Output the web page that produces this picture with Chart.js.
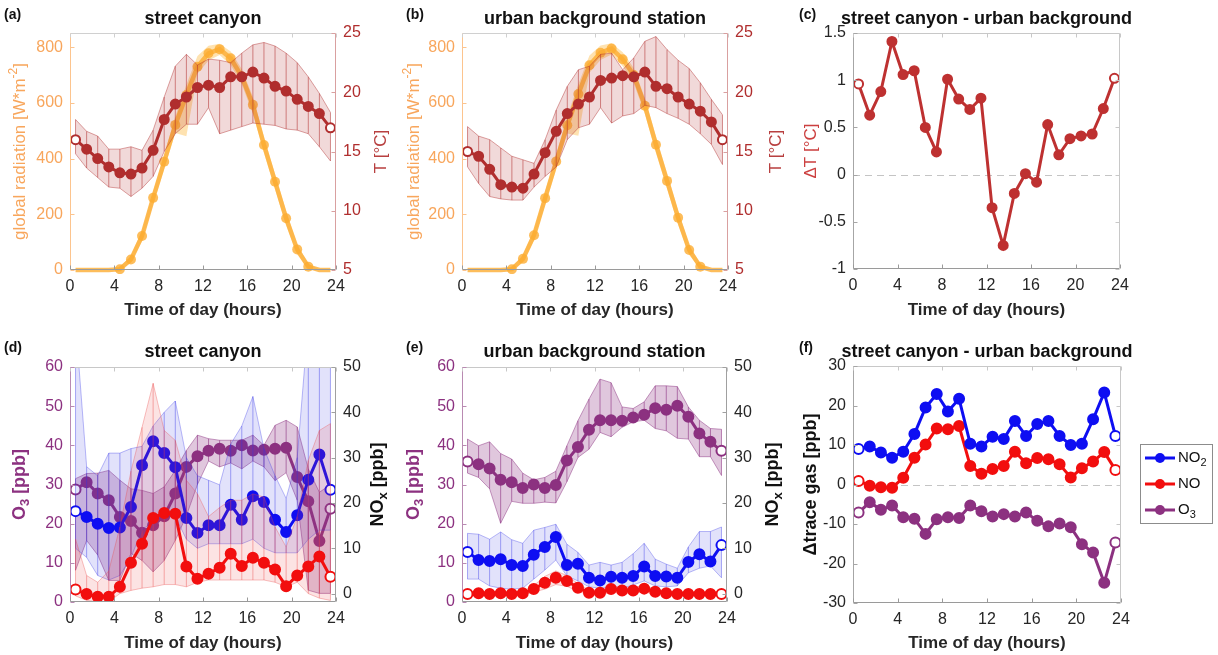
<!DOCTYPE html>
<html lang="en">
<head>
<meta charset="UTF-8">
<title>Diurnal cycles: street canyon vs urban background</title>
<style>
  body { margin: 0; background: #fff; }
  #wrap { position: relative; width: 1218px; height: 655px; }
  #wrap canvas { position: absolute; left: 0; top: 0; }
</style>
</head>
<body>
<div id="wrap">
  <canvas id="cA" width="1218" height="655"></canvas>
  <canvas id="cB" width="1218" height="655"></canvas>
  <canvas id="cC" width="1218" height="655"></canvas>
  <canvas id="cD" width="1218" height="655"></canvas>
  <canvas id="cE" width="1218" height="655"></canvas>
  <canvas id="cF" width="1218" height="655"></canvas>
</div>

<script src="https://cdn.jsdelivr.net/npm/chart.js"></script>
<script>
const hours = [0.5, 1.5, 2.5, 3.5, 4.5, 5.5, 6.5, 7.5, 8.5, 9.5, 10.5, 11.5,
               12.5, 13.5, 14.5, 15.5, 16.5, 17.5, 18.5, 19.5, 20.5, 21.5, 22.5, 23.5];

// (a) street canyon: global radiation [W m-2] and temperature [degC]
const radStreet   = [0, 0, 0, 0, 3, 38, 122, 259, 389, 521, 628, 730, 778, 793, 760, 695, 593, 449, 317, 186, 74, 12, 0, 0];
const radStreetHi = [0, 0, 0, 0, 10, 52, 142, 282, 412, 552, 665, 768, 805, 812, 785, 722, 622, 478, 345, 212, 92, 22, 2, 0];
const radStreetLo = [0, 0, 0, 0, 0, 26, 104, 236, 362, 492, 480, 705, 752, 772, 735, 666, 562, 420, 290, 160, 56, 4, 0, 0];
const tStreet   = [16.0, 15.2, 14.4, 13.7, 13.2, 13.1, 13.6, 15.1, 17.7, 19.0, 19.6, 20.4, 20.6, 20.4, 21.3, 21.3, 21.7, 21.2, 20.5, 20.1, 19.4, 18.8, 18.2, 17.0];
const tStreetHi = [17.7, 16.7, 16.3, 15.2, 15.2, 15.4, 15.1, 16.8, 19.6, 22.2, 23.2, 22.3, 22.8, 22.7, 22.5, 23.3, 24.0, 24.2, 23.9, 23.3, 22.5, 21.3, 19.9, 18.3];
const tStreetLo = [14.8, 13.6, 12.8, 12.0, 11.9, 11.2, 11.9, 12.9, 15.0, 16.5, 17.3, 17.3, 18.7, 16.5, 16.8, 17.1, 17.4, 17.3, 17.2, 16.9, 16.8, 16.5, 15.4, 14.2];

// (b) urban background station
const radUrban   = [0, 0, 0, 0, 3, 40, 125, 258, 390, 520, 632, 735, 780, 795, 757, 700, 590, 450, 320, 188, 72, 12, 0, 0];
const radUrbanHi = [0, 0, 0, 0, 10, 54, 145, 282, 414, 552, 668, 770, 806, 814, 782, 725, 618, 480, 348, 214, 90, 22, 2, 0];
const radUrbanLo = [0, 0, 0, 0, 0, 27, 106, 234, 362, 490, 482, 708, 754, 774, 732, 670, 560, 420, 292, 162, 54, 4, 0, 0];
const tUrban   = [15.0, 14.6, 13.5, 12.2, 12.0, 11.9, 13.1, 14.9, 16.7, 18.2, 19.0, 19.6, 21.0, 21.2, 21.4, 21.3, 21.7, 20.5, 20.3, 19.6, 19.0, 18.4, 17.5, 16.0];
const tUrbanHi = [17.1, 16.3, 16.0, 15.3, 14.6, 14.3, 14.0, 16.0, 18.5, 20.5, 21.9, 22.2, 23.2, 23.3, 21.9, 22.9, 24.3, 24.7, 23.6, 22.7, 22.0, 20.8, 19.4, 18.1];
const tUrbanLo = [13.7, 12.3, 11.2, 11.0, 10.9, 10.9, 12.0, 12.9, 13.7, 16.0, 17.0, 17.3, 18.7, 17.4, 18.0, 18.2, 18.9, 18.7, 18.2, 17.8, 17.3, 16.5, 15.6, 13.9];

// (c) temperature difference
const dT = [0.96, 0.63, 0.88, 1.41, 1.06, 1.10, 0.50, 0.24, 1.01, 0.80, 0.69, 0.81, -0.35, -0.75, -0.20, 0.01, -0.08, 0.53, 0.21, 0.38, 0.41, 0.43, 0.70, 1.02];

// (d) street canyon trace gases [ppb]
const o3Street   = [28.7, 30.6, 27.7, 26.0, 21.7, 20.7, 17.7, 19.6, 21.9, 27.7, 34.5, 37.2, 38.6, 39.1, 38.6, 40.0, 38.7, 38.9, 39.1, 39.4, 31.9, 25.7, 15.6, 23.8];
const o3StreetHi = [31.5, 32.8, 32.9, 33.6, 31.1, 28.9, 28.5, 27.7, 29.4, 33.6, 38.7, 42.6, 41.7, 41.3, 41.3, 41.3, 42.6, 40.0, 45.1, 46.4, 44.7, 34.0, 28.0, 30.0];
const o3StreetLo = [8.1, 15.7, 12.0, 5.5, 5.5, 12.4, 10.6, 7.7, 10.6, 15.7, 22.0, 30.0, 36.0, 34.5, 35.5, 34.0, 36.0, 34.5, 31.0, 33.0, 26.0, 3.0, 2.2, 2.2];
const no2Street   = [18.2, 16.9, 15.4, 14.5, 14.6, 19.1, 28.3, 33.6, 31.0, 27.9, 16.7, 13.4, 15.1, 15.1, 19.6, 16.3, 21.5, 20.2, 16.3, 13.6, 17.3, 25.1, 30.7, 22.9];
const no2StreetHi = [60, 28, 26, 31, 31, 32, 32.5, 37, 40, 42.5, 30, 26, 25, 24, 33, 37, 43.5, 32, 26, 21, 30, 60, 60, 60];
const no2StreetLo = [10, 8, 4, 3, 4, 8, 14, 16, 17, 17, 12, 10, 11, 11, 11, 11, 12, 10, 9, 9, 9, 12, 14, 14];
const noStreet   = [0.9, -0.1, -0.7, -0.7, 1.5, 6.8, 11.0, 16.7, 17.8, 17.6, 6.0, 3.3, 4.4, 5.7, 8.8, 6.1, 7.9, 6.8, 5.3, 1.6, 4.0, 6.0, 8.2, 3.7];
const noStreetHi = [12, 4, 2.5, 5, 14.7, 27, 36.7, 46.4, 36, 33.8, 25, 22, 17, 19, 20.6, 20.6, 22, 21.3, 14.7, 10.3, 17, 29.4, 36, 37.5];
const noStreetLo = [-0.5, -1.5, -1.8, -1.8, 0, 0.7, 1.2, 1.5, 2, 2, 1.5, 2.5, 3, 3, 3, 3, 3, 3, 2.5, 1.5, 2.5, 0, -1, -1.5];

// (e) urban background trace gases [ppb]
const o3Urban   = [35.9, 35.2, 34.1, 31.2, 30.6, 29.1, 30.0, 29.1, 29.9, 36.1, 39.6, 44.0, 46.4, 46.4, 46.3, 47.1, 47.8, 49.5, 49.1, 50.1, 47.3, 43.0, 40.9, 38.6];
const o3UrbanHi = [41.6, 39.9, 40.9, 37.9, 36.5, 32.9, 31.2, 31.8, 33.4, 39.9, 46.3, 51.8, 56.9, 56.0, 49.8, 49.4, 51.1, 55.2, 55.2, 55.0, 49.8, 46.4, 44.3, 44.1];
const o3UrbanLo = [32.9, 31.8, 28.9, 20.1, 25.7, 25.2, 25.2, 25.5, 25.3, 30.7, 36.9, 39.0, 43.3, 42.2, 44.6, 46.0, 46.4, 44.3, 43.7, 41.8, 41.6, 37.1, 37.1, 32.3];
const no2Urban   = [9.2, 7.4, 7.2, 7.6, 6.3, 6.1, 8.6, 10.3, 12.5, 6.3, 6.6, 3.5, 2.9, 3.7, 3.5, 3.9, 6.0, 3.9, 3.8, 3.5, 7.0, 8.7, 7.1, 10.7];
const no2UrbanHi = [13.3, 13.1, 12.0, 13.6, 11.9, 11.1, 14.0, 14.6, 15.3, 10.9, 9.1, 6.3, 6.9, 6.3, 6.9, 8.8, 11.1, 7.6, 6.5, 5.6, 10.3, 13.7, 13.7, 14.7];
const no2UrbanLo = [3.2, 3.2, 1.7, 1.2, 1.0, 1.2, 3.2, 5.2, 7.4, 3.9, 2.8, 1.5, 1.2, 1.5, 1.2, 1.9, 2.8, 1.7, 1.5, 1.7, 4.6, 5.6, 6.1, 3.5];
const noUrban   = [-0.1, 0.1, -0.1, 0.1, -0.1, 0.1, 1.0, 2.4, 3.5, 2.8, 1.3, 0.2, 0.2, 1.0, 0.7, 0.7, 1.1, 0.4, 0.1, -0.1, -0.1, -0.1, -0.1, -0.1];
const noUrbanHi = [0.3, 0.5, 0.4, 0.5, 0.4, 0.5, 1.8, 3.8, 5.0, 4.0, 2.2, 0.8, 0.8, 1.7, 1.4, 1.4, 1.8, 1.0, 0.5, 0.3, 0.3, 0.3, 0.3, 0.3];
const noUrbanLo = [-0.4, -0.3, -0.5, -0.3, -0.5, -0.3, 0.3, 1.0, 2.0, 1.6, 0.5, -0.3, -0.3, 0.3, 0.1, 0.1, 0.4, -0.2, -0.3, -0.4, -0.4, -0.4, -0.4, -0.4];

// (f) street canyon - urban background
const dNO2 = [9.0, 9.6, 8.1, 6.8, 8.3, 12.8, 19.5, 22.9, 18.5, 21.7, 10.3, 9.6, 12.1, 11.5, 16.1, 12.3, 15.3, 16.1, 12.3, 10.0, 10.3, 16.5, 23.3, 12.3];
const dNO  = [0.9, -0.3, -0.7, -0.8, 1.7, 6.8, 10.1, 14.2, 14.0, 14.8, 4.7, 2.7, 3.9, 4.7, 8.3, 5.4, 6.7, 6.4, 5.1, 1.8, 4.1, 5.8, 8.2, 3.7];
const dO3  = [-7.1, -4.5, -6.4, -5.3, -8.3, -8.7, -12.5, -8.8, -8.3, -8.5, -5.3, -6.8, -8.1, -7.5, -8.1, -7.1, -9.2, -10.6, -9.9, -10.8, -15.1, -17.2, -24.9, -14.7];

const W = 1218, H = 655;
const FONT = '"Liberation Sans", Arial, Helvetica, sans-serif';
Chart.defaults.font.family = FONT;

const C_RAD = 'rgba(253,172,50,0.8)';
const C_RAD_BAND = 'rgba(253,190,80,0.45)';
const C_RAD_TXT = '#F8A65C';
const C_T = '#B02E2E';
const C_T_BAND = 'rgba(176,46,46,0.18)';
const C_T_EDGE = 'rgba(176,46,46,0.55)';
const C_DT = '#BE3131';
const C_O3 = '#8C3180';
const C_NO2 = '#0E0EF2';
const C_NO = '#F20E0E';
const TXT = '#262626';

const pts = arr => arr.map((v, i) => ({x: hours[i], y: v}));

function lineDs(data, color, axis, radius) {
  return {
    data: pts(data), yAxisID: axis,
    borderColor: color, backgroundColor: color, borderWidth: 3,
    pointRadius: radius || 4.5, pointBorderWidth: 2, pointBorderColor: color,
    pointBackgroundColor: data.map((v, i) => (i === 0 || i === data.length - 1) ? '#fff' : color),
    fill: false, tension: 0
  };
}

function radDs(data) {
  return {
    data: pts(data), yAxisID: 'y',
    borderColor: C_RAD, backgroundColor: C_RAD, borderWidth: 4.5,
    pointRadius: data.map(v => v > 0 ? 5 : 0), pointBorderWidth: 0,
    pointBackgroundColor: C_RAD, fill: false, tension: 0, clip: 4
  };
}

function band(hi, lo, axis, fillColor, edgeColor) {
  return [
    {data: pts(hi), yAxisID: axis, borderColor: edgeColor || 'rgba(0,0,0,0)', borderWidth: edgeColor ? 0.8 : 0,
     pointRadius: 0, fill: false, tension: 0},
    {data: pts(lo), yAxisID: axis, borderColor: edgeColor || 'rgba(0,0,0,0)', borderWidth: edgeColor ? 0.8 : 0,
     pointRadius: 0, fill: '-1', backgroundColor: fillColor, tension: 0, hatch: edgeColor}
  ];
}

function xScale() {
  return {
    type: 'linear', min: 0, max: 24,
    ticks: {stepSize: 4, color: TXT, font: {size: 16}, padding: 7, maxRotation: 0, autoSkip: false},
    grid: {display: false, drawTicks: false}, border: {display: false},
    afterFit: s => { s.height = 30; }
  };
}

function yScale(pos, min, max, step, color) {
  return {
    type: 'linear', position: pos, min: min, max: max,
    ticks: {stepSize: step, color: color, font: {size: 16}, padding: 7, includeBounds: false,
            callback: v => String(+v.toFixed(2))},
    grid: {display: false, drawTicks: false}, border: {display: false},
    afterFit: s => { s.width = 40; }
  };
}

function richParts(s) {
  const parts = [];
  const re = /([_^])\{([^}]*)\}/g;
  let last = 0, m;
  while ((m = re.exec(s))) {
    if (m.index > last) parts.push([s.slice(last, m.index), '']);
    parts.push([m[2], m[1] === '_' ? 'sub' : 'sup']);
    last = re.lastIndex;
  }
  if (last < s.length) parts.push([s.slice(last), '']);
  return parts;
}

function drawText(ctx, o) {
  const size = o.size || 17;
  const weight = o.bold ? 'bold' : 'normal';
  const f = k => weight + ' ' + (k ? Math.round(size * 0.72) : size) + 'px ' + FONT;
  const parts = richParts(o.t);
  ctx.save();
  ctx.translate(o.x, o.y);
  if (o.rot) ctx.rotate(o.rot);
  let total = 0;
  parts.forEach(p => { ctx.font = f(p[1]); total += ctx.measureText(p[0]).width; });
  let cx = o.align === 'left' ? 0 : -total / 2;
  ctx.fillStyle = o.color || '#111';
  ctx.textBaseline = 'middle';
  ctx.textAlign = 'left';
  parts.forEach(p => {
    ctx.font = f(p[1]);
    const dy = p[1] === 'sub' ? size * 0.32 : (p[1] === 'sup' ? -size * 0.38 : 0);
    ctx.fillText(p[0], cx, dy);
    cx += ctx.measureText(p[0]).width;
  });
  ctx.restore();
}

// per-panel decorations: box, inward ticks, zero line, hatching, texts, legend
function decoPlugin(cfg) {
  return {
    id: 'deco',
    beforeDatasetsDraw(chart) {
      if (!cfg.zero) return;
      const {ctx, chartArea: a} = chart;
      const py = Math.round(chart.scales.y.getPixelForValue(0)) + 0.5;
      ctx.save();
      ctx.strokeStyle = '#c4c4c4'; ctx.lineWidth = 1; ctx.setLineDash([7, 5]);
      ctx.beginPath(); ctx.moveTo(a.left, py); ctx.lineTo(a.right, py); ctx.stroke();
      ctx.restore();
    },
    afterDatasetDraw(chart, args) {
      const ds = chart.data.datasets[args.index];
      if (!ds.hatch) return;
      const lo = args.meta.data, hi = chart.getDatasetMeta(args.index - 1).data;
      const {ctx, chartArea: a} = chart;
      ctx.save();
      ctx.beginPath(); ctx.rect(a.left, a.top, a.right - a.left, a.bottom - a.top); ctx.clip();
      ctx.strokeStyle = ds.hatch; ctx.lineWidth = 1;
      ctx.beginPath();
      lo.forEach((p, k) => { ctx.moveTo(p.x, hi[k].y); ctx.lineTo(p.x, p.y); });
      ctx.stroke();
      ctx.restore();
    },
    afterDatasetsDraw(chart) {
      const {ctx, chartArea: a, scales} = chart;
      const b = cfg.box, TL = 4;
      const L = Math.round(a.left) + 0.5, R = Math.round(a.right) - 0.5;
      const T = Math.round(a.top) + 0.5, B = Math.round(a.bottom) - 0.5;
      const seg = (x1, y1, x2, y2, c) => {
        ctx.strokeStyle = c; ctx.beginPath(); ctx.moveTo(x1, y1); ctx.lineTo(x2, y2); ctx.stroke();
      };
      ctx.save();
      ctx.lineWidth = 1;
      seg(L, T, R, T, b.top); seg(L, B, R, B, b.bottom);
      seg(L, T, L, B, b.left); seg(R, T, R, B, b.right);
      scales.x.ticks.forEach(t => {
        const px = Math.round(scales.x.getPixelForValue(t.value)) + 0.5;
        seg(px, B, px, B - TL, b.bottom); seg(px, T, px, T + TL, b.top);
      });
      scales.y.ticks.forEach(t => {
        const py = Math.round(scales.y.getPixelForValue(t.value)) + 0.5;
        seg(L, py, L + TL, py, b.left);
      });
      const rs = scales.y1 || scales.y;
      rs.ticks.forEach(t => {
        const py = Math.round(rs.getPixelForValue(t.value)) + 0.5;
        seg(R, py, R - TL, py, b.right);
      });
      ctx.restore();
    },
    afterDraw(chart) {
      const ctx = chart.ctx;
      cfg.texts.forEach(o => drawText(ctx, o));
      if (cfg.legend) {
        const lg = cfg.legend;
        ctx.save();
        ctx.fillStyle = '#fff'; ctx.fillRect(lg.x, lg.y, lg.w, lg.h);
        ctx.strokeStyle = '#8c8c8c'; ctx.lineWidth = 1;
        ctx.strokeRect(lg.x + 0.5, lg.y + 0.5, lg.w, lg.h);
        lg.items.forEach((it, k) => {
          const y = lg.y + 14 + k * 26;
          ctx.strokeStyle = it.color; ctx.lineWidth = 3;
          ctx.beginPath(); ctx.moveTo(lg.x + 5, y); ctx.lineTo(lg.x + 35, y); ctx.stroke();
          ctx.fillStyle = it.color;
          ctx.beginPath(); ctx.arc(lg.x + 20, y, 5, 0, Math.PI * 2); ctx.fill();
          drawText(ctx, {t: it.label, x: lg.x + 38, y: y, size: 15, align: 'left', color: '#111'});
        });
        ctx.restore();
      }
    }
  };
}

function makeChart(id, area, scales, datasets, cfg) {
  const padding = {
    left: area.l - 40,
    right: W - area.r - (scales.y1 ? 40 : 0),
    top: area.t,
    bottom: H - area.b - 30
  };
  return new Chart(document.getElementById(id), {
    type: 'line',
    data: {datasets: datasets},
    options: {
      responsive: false, animation: false, events: [],
      layout: {padding: padding},
      plugins: {legend: {display: false}, tooltip: {enabled: false}},
      scales: scales
    },
    plugins: [decoPlugin(cfg)]
  });
}

const ROT = -Math.PI / 2;

function tempPanel(id, area, rad, radHi, radLo, t, tHi, tLo, letter, title, lx, rx) {
  const cx = (area.l + area.r) / 2, cy = (area.t + area.b) / 2;
  makeChart(id, area,
    {x: xScale(), y: yScale('left', 0, 851, 200, C_RAD_TXT), y1: yScale('right', 5, 25, 5, C_T)},
    [lineDs(t, C_T, 'y1'), ...band(tHi, tLo, 'y1', C_T_BAND, C_T_EDGE),
     radDs(rad), ...band(radHi, radLo, 'y', C_RAD_BAND, null)],
    {box: {left: '#FCC48E', right: '#D9A0A0', top: '#d0d0d0', bottom: '#9a9a9a'},
     texts: [
       {t: letter, x: letter === '(a)' ? 4 : 406, y: 15, size: 14, bold: true, align: 'left'},
       {t: title, x: cx, y: 19, size: 18, bold: true},
       {t: 'Time of day (hours)', x: cx, y: 310, size: 17, bold: true, color: TXT},
       {t: 'global radiation [W*m^{-2}]', x: lx, y: cy, size: 17, rot: ROT, color: C_RAD_TXT},
       {t: 'T [°C]', x: rx, y: cy, size: 17, rot: ROT, color: '#B84040'}
     ]});
}

tempPanel('cA', {l: 70, r: 336, t: 33, b: 270}, radStreet, radStreetHi, radStreetLo,
          tStreet, tStreetHi, tStreetLo, '(a)', 'street canyon', 20, 381);
tempPanel('cB', {l: 462, r: 728, t: 33, b: 270}, radUrban, radUrbanHi, radUrbanLo,
          tUrban, tUrbanHi, tUrbanLo, '(b)', 'urban background station', 414, 776);

// (c)
makeChart('cC', {l: 853, r: 1120, t: 33, b: 269},
  {x: xScale(), y: yScale('left', -1, 1.5, 0.5, TXT)},
  [lineDs(dT, C_DT, 'y')],
  {zero: true, box: {left: '#a6a6a6', right: '#c8c8c8', top: '#c8c8c8', bottom: '#9a9a9a'},
   texts: [
     {t: '(c)', x: 799, y: 15, size: 14, bold: true, align: 'left'},
     {t: 'street canyon - urban background', x: 986.5, y: 19, size: 18, bold: true},
     {t: 'Time of day (hours)', x: 986.5, y: 310, size: 17, bold: true, color: TXT},
     {t: 'ΔT [°C]', x: 811, y: 151, size: 17, rot: ROT, color: '#CC4040'}
   ]});

function gasPanel(id, area, o3, o3Hi, o3Lo, no2, no2Hi, no2Lo, no, noHi, noLo, letter, title, lx, rx) {
  const cx = (area.l + area.r) / 2, cy = (area.t + area.b) / 2;
  makeChart(id, area,
    {x: xScale(), y: yScale('left', 0, 60, 10, C_O3), y1: yScale('right', -1.85, 50, 10, TXT)},
    [lineDs(no, C_NO, 'y1', 5), ...band(noHi, noLo, 'y1', 'rgba(235,70,70,0.15)', 'rgba(235,70,70,0.42)'),
     lineDs(no2, C_NO2, 'y1', 5), ...band(no2Hi, no2Lo, 'y1', 'rgba(50,50,230,0.14)', 'rgba(50,50,230,0.42)'),
     lineDs(o3, C_O3, 'y', 5), ...band(o3Hi, o3Lo, 'y', 'rgba(140,49,128,0.27)', 'rgba(140,49,128,0.6)')],
    {box: {left: '#B98AB2', right: '#a0a0a0', top: '#c8c8c8', bottom: '#9a9a9a'},
     texts: [
       {t: letter, x: letter === '(d)' ? 4 : 406, y: 348, size: 14, bold: true, align: 'left'},
       {t: title, x: cx, y: 352, size: 18, bold: true},
       {t: 'Time of day (hours)', x: cx, y: 643, size: 17, bold: true, color: TXT},
       {t: 'O_{3} [ppb]', x: lx, y: cy, size: 18, bold: true, rot: ROT, color: C_O3},
       {t: 'NO_{x} [ppb]', x: rx, y: cy, size: 18, bold: true, rot: ROT, color: '#111'}
     ]});
}

gasPanel('cD', {l: 70, r: 336, t: 367, b: 602}, o3Street, o3StreetHi, o3StreetLo,
         no2Street, no2StreetHi, no2StreetLo, noStreet, noStreetHi, noStreetLo,
         '(d)', 'street canyon', 20, 378);
gasPanel('cE', {l: 462, r: 727, t: 367, b: 602}, o3Urban, o3UrbanHi, o3UrbanLo,
         no2Urban, no2UrbanHi, no2UrbanLo, noUrban, noUrbanHi, noUrbanLo,
         '(e)', 'urban background station', 414, 773);

// (f)
makeChart('cF', {l: 853, r: 1121, t: 366, b: 603},
  {x: xScale(), y: yScale('left', -30, 30, 10, TXT)},
  [lineDs(dNO2, C_NO2, 'y', 5), lineDs(dNO, C_NO, 'y', 5), lineDs(dO3, C_O3, 'y', 5)],
  {zero: true, box: {left: '#a6a6a6', right: '#c8c8c8', top: '#c8c8c8', bottom: '#9a9a9a'},
   legend: {x: 1140, y: 444, w: 72, h: 79, items: [
     {label: 'NO_{2}', color: C_NO2}, {label: 'NO', color: C_NO}, {label: 'O_{3}', color: C_O3}]},
   texts: [
     {t: '(f)', x: 799, y: 348, size: 14, bold: true, align: 'left'},
     {t: 'street canyon - urban background', x: 987, y: 352, size: 18, bold: true},
     {t: 'Time of day (hours)', x: 987, y: 643, size: 17, bold: true, color: TXT},
     {t: 'Δtrace gas [ppb]', x: 811, y: 484.5, size: 18, bold: true, rot: ROT, color: '#111'}
   ]});
</script>
</body>
</html>
